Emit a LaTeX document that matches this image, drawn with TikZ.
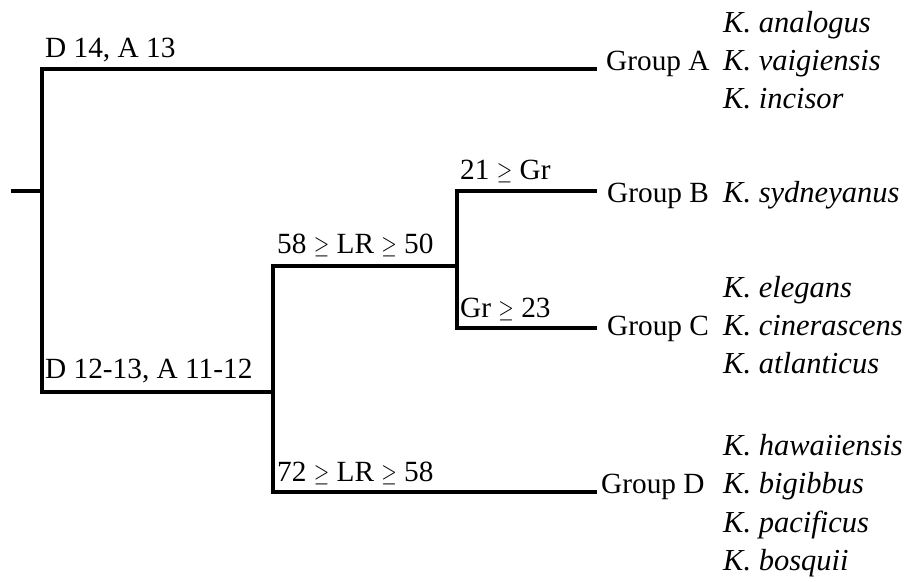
\documentclass[tikz,border=0pt]{standalone}
\usepackage{fontspec}
\setmainfont{Liberation Serif}
\usetikzlibrary{positioning}
\newcommand{\gq}{\scalebox{0.8}[1]{$\geq$}}

\begin{document}
\begin{tikzpicture}[x=1pt,y=-1pt,
	branch/.style={line width=3.8pt},
	every node/.style={inner sep=0pt,font=\fontsize{29.3}{35}\selectfont},
	cut/.style={anchor=base west},
	grp/.style={anchor=base west},
	taxon/.style={anchor=base west,font=\fontsize{30.5}{36}\selectfont\itshape}]
	\useasboundingbox (0,0) rectangle (907,581);
	% split points and branch tips
	\coordinate (root) at (11,191);
	\coordinate (s1) at (42,191);
	\coordinate (s2) at (273,392);
	\coordinate (s3) at (457,266);
	\coordinate (tA) at (597,69);
	\coordinate (tB) at (597,191);
	\coordinate (tC) at (597,328);
	\coordinate (tD) at (597,492);
	\draw[branch] (root) -- (s1);
	\draw[branch] (s1) |- (tA);
	\draw[branch] (s1) |- (s2);
	\draw[branch] (s2) |- (s3);
	\draw[branch] (s2) |- (tD);
	\draw[branch] (s3) |- (tB);
	\draw[branch] (s3) |- (tC);
	% characters on the branches
	\node[cut] (cA) at (45,57) {D 14, A 13};
	\node[cut] (cBCD) at (45,378) {D 12-13, A 11-12};
	\node[cut] (cBC) at (277,253) {58 \gq{} LR \gq{} 50};
	\node[cut] (cB) at (460,179) {21 \gq{} Gr};
	\node[cut] (cC) at (460,317) {Gr \gq{} 23};
	\node[cut] (cD) at (277,481) {72 \gq{} LR \gq{} 58};
	% groups
	\node[grp] (gA) at (606,70) {Group A};
	\node[grp] (gB) at (607,202) {Group B};
	\node[grp] (gC) at (607,335) {Group C};
	\node[grp] (gD) at (601,493) {Group D};
	% species
	\foreach \y/\sp in {32/analogus,70/vaigiensis,108/incisor,202/sydneyanus,
		297/elegans,335/cinerascens,373/atlanticus,
		455/hawaiiensis,493/bigibbus,532/pacificus,570/bosquii}
	\node[taxon] (k-\sp) at (723,\y) {K. \sp};
\end{tikzpicture}
\end{document}
